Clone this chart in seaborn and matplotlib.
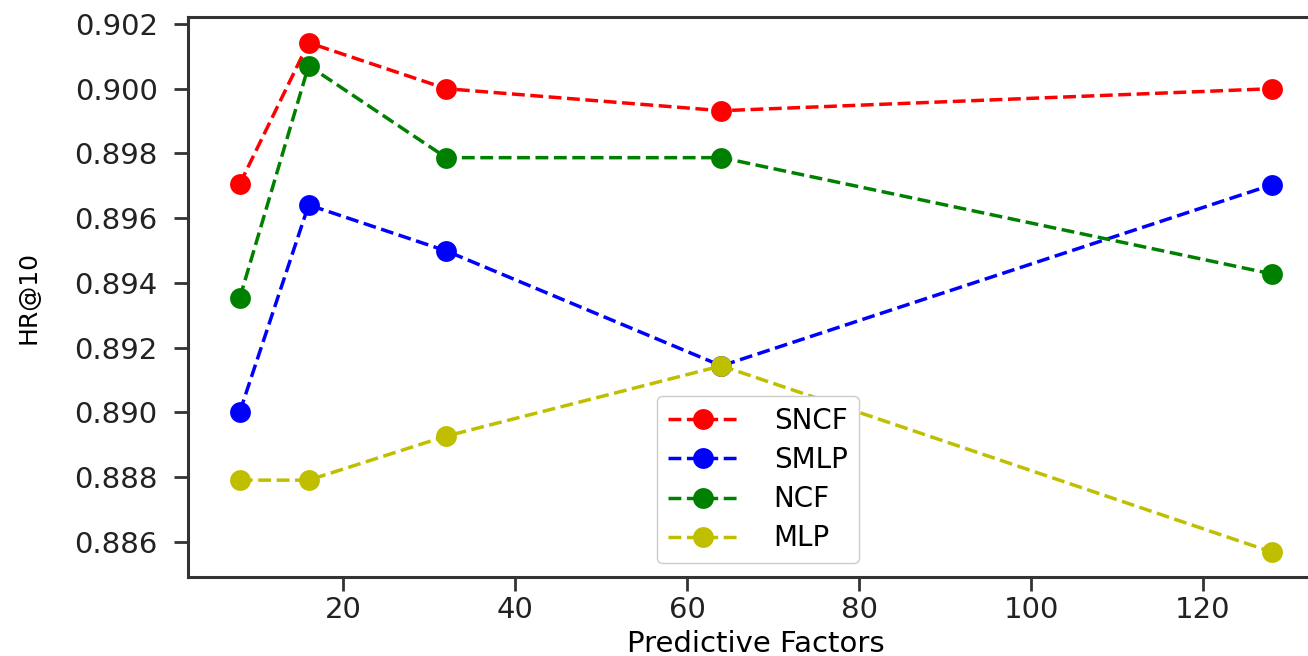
import numpy as np
import pandas as pd
import matplotlib
matplotlib.use("Agg")
import matplotlib.pyplot as plt
import seaborn as sns

factors = [8, 16, 32, 64, 128]
sncf = [0.89706, 0.90142, 0.90000, 0.89932, 0.90000]
smlp = [0.89002, 0.89641, 0.89499, 0.89144, 0.89703]
ncf = [0.89354, 0.90071, 0.89787, 0.89787, 0.89428]
mlp = [0.88791, 0.88791, 0.88927, 0.89144, 0.88569]

series = [("SNCF", sncf, "r"), ("SMLP", smlp, "b"), ("NCF", ncf, "g"), ("MLP", mlp, "y")]

plt.rcParams["font.family"] = "DejaVu Sans"
fs = 21

fig = plt.figure(figsize=(13.08, 6.56), dpi=100)
ax = fig.add_axes([0.1439, 0.1197, 0.8679, 0.854])

for name, vals, c in series:
    df = pd.DataFrame({"x": factors, "y": vals})
    sns.lineplot(data=df, x="x", y="y", color=c, marker="o", markersize=15,
                 markeredgewidth=0, linestyle="--", dashes=(5.5, 2.8), linewidth=2.5,
                 label=name, ax=ax)

ax.set_xlim(2, 134)
ax.set_xlabel("Predictive Factors", fontsize=fs, labelpad=4)
ax.set_ylabel("HR@10", fontsize=18, labelpad=24)
ax.set_xticks([20, 40, 60, 80, 100, 120])
ax.set_yticks([0.886, 0.888, 0.890, 0.892, 0.894, 0.896, 0.898, 0.900, 0.902])
ax.yaxis.set_major_formatter(matplotlib.ticker.FormatStrFormatter("%.3f"))
ax.tick_params(labelsize=fs, length=10, width=2, color="#333333", labelcolor="#222222")
ax.tick_params(axis="y", pad=12)
for s in ax.spines.values():
    s.set_linewidth(2.2)
    s.set_color("#333333")

ax.legend(loc="lower left", bbox_to_anchor=(0.413, 0.025), borderaxespad=0,
          fontsize=fs - 1, handlelength=2.5, handletextpad=1.3, labelspacing=0.4,
          framealpha=1, edgecolor="#cccccc")

fig.savefig("out.png", dpi=100)
